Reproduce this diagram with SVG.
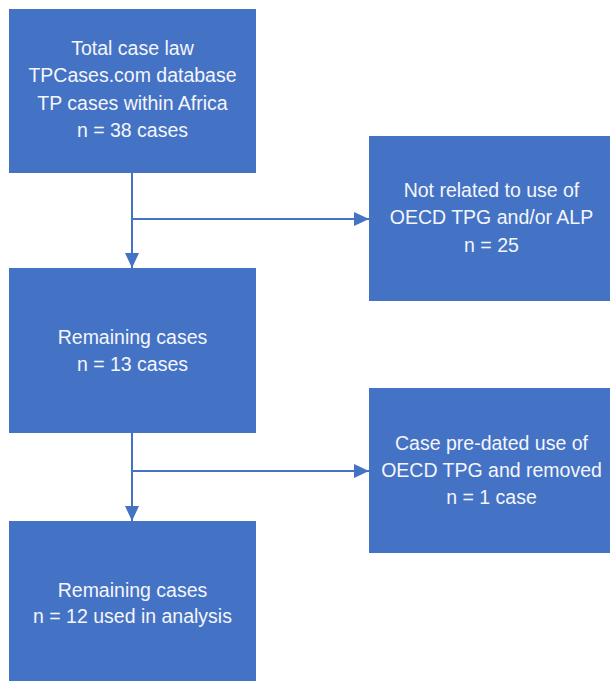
<svg xmlns="http://www.w3.org/2000/svg" width="610" height="681" viewBox="0 0 610 681">
<style>
.box{fill:#4472C4;}
.t{font-family:"Liberation Sans","Noto Sans",sans-serif;font-size:19.5px;fill:#F4F6FB;text-anchor:middle;}
.c{stroke:#4472C4;stroke-width:2;fill:none;}
</style>
<defs>
<marker id="ah" markerUnits="userSpaceOnUse" markerWidth="16" markerHeight="16" viewBox="0 0 16 16" refX="15" refY="8" orient="auto">
<path d="M0,1 L15,8 L0,15 Z" fill="#4472C4"/>
</marker>
</defs>
<rect width="610" height="681" fill="#fff"/>
<g id="connectors">
<path class="c" d="M132,173 V268" marker-end="url(#ah)"/>
<path class="c" d="M132,219 H369" marker-end="url(#ah)"/>
<path class="c" d="M132,433 V521" marker-end="url(#ah)"/>
<path class="c" d="M132,471 H369" marker-end="url(#ah)"/>
</g>
<g id="n1">
<rect class="box" x="9" y="9" width="247" height="164"/>
<text class="t" x="132.5" y="55">Total case law</text>
<text class="t" x="132.5" y="82">TPCases.com database</text>
<text class="t" x="132.5" y="110">TP cases within Africa</text>
<text class="t" x="132.5" y="137">n = 38 cases</text>
</g>
<g id="n2">
<rect class="box" x="369" y="136" width="245" height="165"/>
<text class="t" x="491.5" y="197">Not related to use of</text>
<text class="t" x="491.5" y="224">OECD TPG and/or ALP</text>
<text class="t" x="491.5" y="252">n = 25</text>
</g>
<g id="n3">
<rect class="box" x="9" y="268" width="247" height="165"/>
<text class="t" x="132.5" y="344">Remaining cases</text>
<text class="t" x="132.5" y="371">n = 13 cases</text>
</g>
<g id="n4">
<rect class="box" x="369" y="388" width="245" height="165"/>
<text class="t" x="491.5" y="450">Case pre-dated use of</text>
<text class="t" x="491.5" y="477">OECD TPG and removed</text>
<text class="t" x="491.5" y="504">n = 1 case</text>
</g>
<g id="n5">
<rect class="box" x="9" y="521" width="247" height="165"/>
<text class="t" x="132.5" y="597">Remaining cases</text>
<text class="t" x="132.5" y="623">n = 12 used in analysis</text>
</g>
</svg>
